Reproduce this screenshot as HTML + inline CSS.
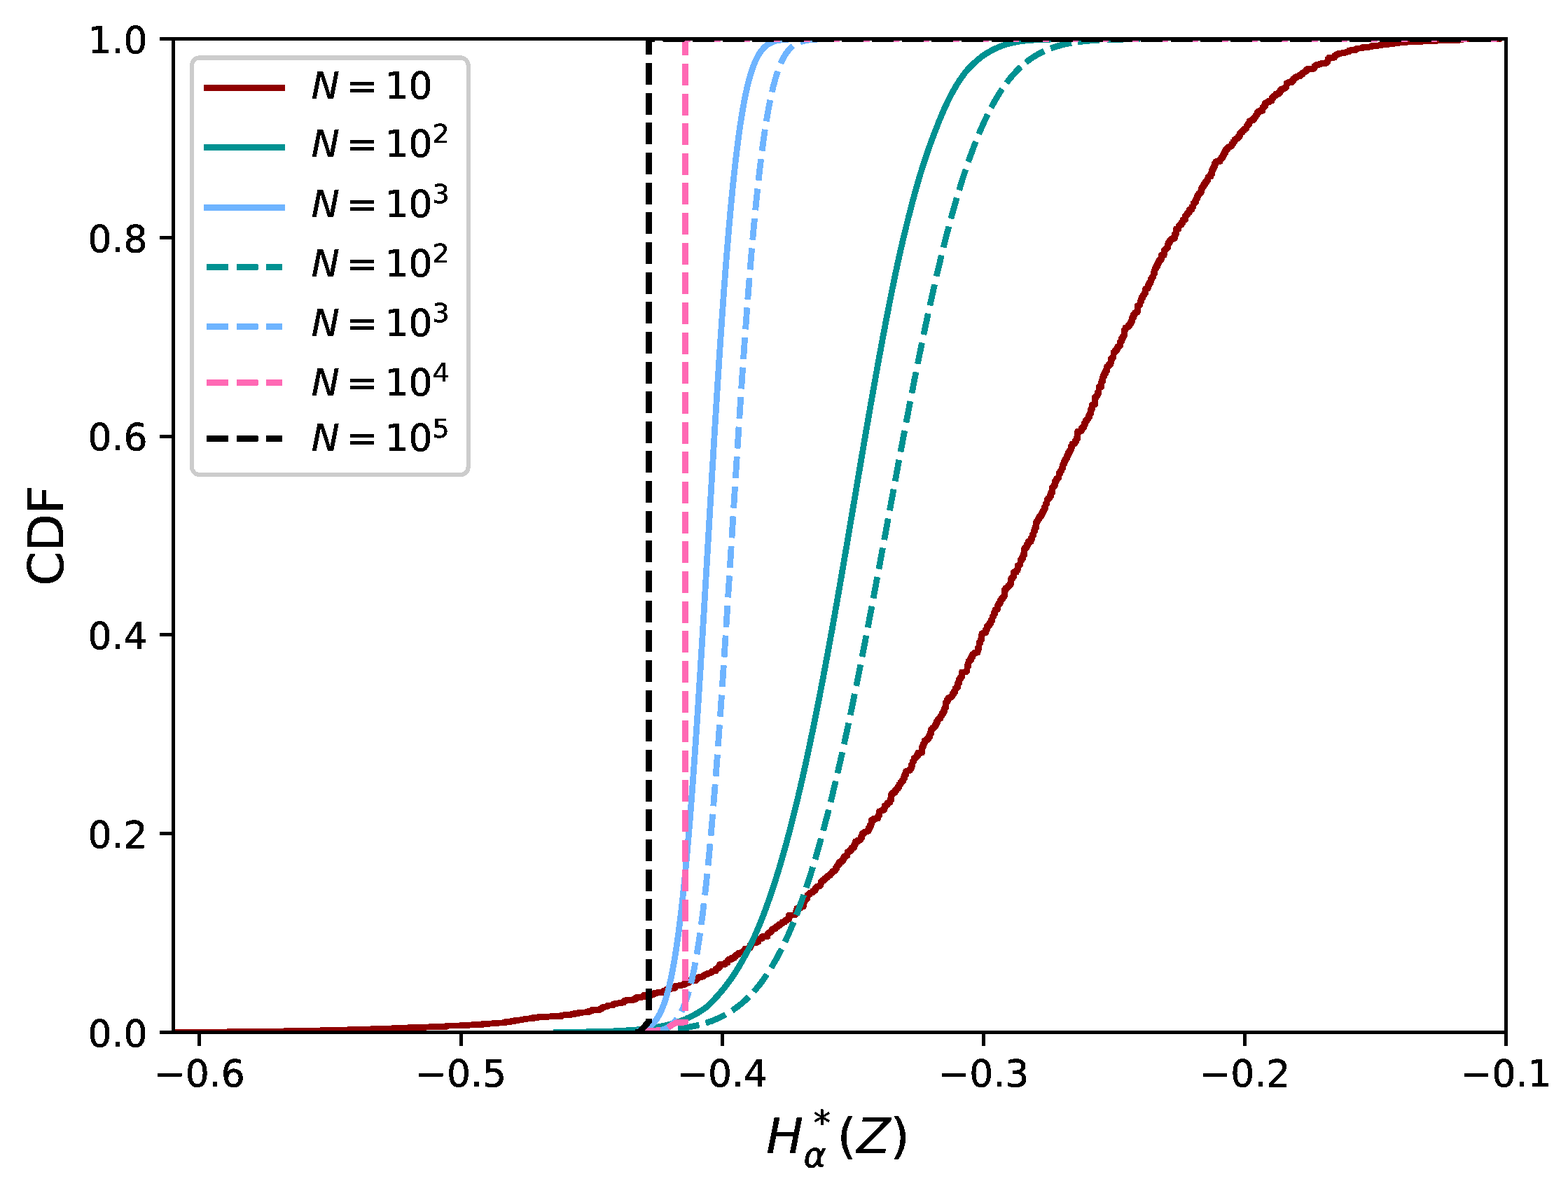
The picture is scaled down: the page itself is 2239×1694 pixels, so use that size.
<!DOCTYPE html>
<html lang="en"><head><meta charset="utf-8"><title>CDF plot</title>
<style>html,body{margin:0;padding:0;background:#fff}svg{display:block}text{font-family:"DejaVu Sans","Liberation Sans",sans-serif;fill:#000;stroke:none}.t{font-size:53.5px}.l{font-size:70px}.s{font-size:37.45px}.i{font-style:oblique}</style></head><body>
<svg xmlns="http://www.w3.org/2000/svg" width="2239" height="1694" viewBox="0 0 2239 1694">
<rect width="2239" height="1694" fill="#fff"/>
<defs><filter id="hard" x="0" y="0" width="2239" height="1694" filterUnits="userSpaceOnUse" color-interpolation-filters="sRGB"><feComponentTransfer><feFuncA type="discrete" tableValues="0 1 1 1 1 1 1 1 1 1"/></feComponentTransfer></filter></defs>
<defs><clipPath id="ax"><rect x="247.6" y="55.7" width="1903" height="1418.7"/></clipPath></defs>
<g filter="url(#hard)"><g clip-path="url(#ax)" fill="none" stroke-width="8" stroke-linejoin="round"><path d="M239.09,1474.04 L240.99,1474.04 L240.99,1474.04 L242.89,1474.04 L242.89,1474.04 L244.79,1474.04 L244.79,1474.04 L246.69,1474.04 L246.69,1474.04 L248.59,1474.04 L248.59,1474.04 L250.49,1474.04 L250.49,1474.04 L252.39,1474.04 L252.39,1474.04 L254.29,1474.04 L254.29,1474.04 L256.19,1474.04 L256.19,1474.04 L258.09,1474.04 L258.09,1474.04 L259.99,1474.04 L259.99,1474.04 L261.89,1474.04 L261.89,1474.04 L263.79,1474.04 L263.79,1474.04 L265.69,1474.04 L265.69,1474.04 L267.59,1474.04 L267.59,1474.04 L269.49,1474.04 L269.49,1474.04 L271.39,1474.04 L271.39,1474.04 L273.29,1474.04 L273.29,1474.04 L275.19,1474.04 L275.19,1474.04 L277.09,1474.04 L277.09,1474.04 L278.99,1474.04 L278.99,1474.04 L280.89,1474.04 L280.89,1474.04 L282.79,1474.04 L282.79,1474.04 L284.69,1474.04 L284.69,1474.04 L286.59,1474.04 L286.59,1474.04 L288.49,1474.04 L288.49,1474.04 L290.39,1474.04 L290.39,1474.03 L292.29,1474.03 L292.29,1474.03 L294.19,1474.03 L294.19,1474.03 L296.09,1474.03 L296.09,1474.02 L297.99,1474.02 L297.99,1474.01 L299.89,1474.01 L299.89,1474.01 L301.79,1474.01 L301.79,1474 L303.69,1474 L303.69,1473.99 L305.59,1473.99 L305.59,1473.98 L307.49,1473.98 L307.49,1473.97 L309.39,1473.97 L309.39,1473.96 L311.29,1473.96 L311.29,1473.95 L313.19,1473.95 L313.19,1473.94 L315.09,1473.94 L315.09,1473.93 L316.99,1473.93 L316.99,1473.92 L318.89,1473.92 L318.89,1473.9 L320.79,1473.9 L320.79,1473.89 L322.69,1473.89 L322.69,1473.88 L324.59,1473.88 L324.59,1473.86 L326.49,1473.86 L326.49,1473.85 L328.39,1473.85 L328.39,1473.84 L330.29,1473.84 L330.29,1473.82 L332.19,1473.82 L332.19,1473.81 L334.09,1473.81 L334.09,1473.79 L335.99,1473.79 L335.99,1473.77 L337.89,1473.77 L337.89,1473.76 L339.79,1473.76 L339.79,1473.74 L341.69,1473.74 L341.69,1473.72 L343.59,1473.72 L343.59,1473.71 L345.49,1473.71 L345.49,1473.69 L347.39,1473.69 L347.39,1473.67 L349.29,1473.67 L349.29,1473.65 L351.19,1473.65 L351.19,1473.63 L353.09,1473.63 L353.09,1473.61 L354.99,1473.61 L354.99,1473.59 L356.89,1473.59 L356.89,1473.57 L358.79,1473.57 L358.79,1473.55 L360.69,1473.55 L360.69,1473.52 L362.59,1473.52 L362.59,1473.5 L364.49,1473.5 L364.49,1473.48 L366.39,1473.48 L366.39,1473.46 L368.29,1473.46 L368.29,1473.43 L370.19,1473.43 L370.19,1473.41 L372.09,1473.41 L372.09,1473.38 L373.99,1473.38 L373.99,1473.36 L375.89,1473.36 L375.89,1473.33 L377.79,1473.33 L377.79,1473.31 L379.69,1473.31 L379.69,1473.28 L381.59,1473.28 L381.59,1473.26 L383.49,1473.26 L383.49,1473.23 L385.39,1473.23 L385.39,1473.2 L387.29,1473.2 L387.29,1473.17 L389.19,1473.17 L389.19,1473.15 L391.09,1473.15 L391.09,1473.12 L392.99,1473.12 L392.99,1473.09 L394.89,1473.09 L394.89,1473.06 L396.79,1473.06 L396.79,1473.03 L398.69,1473.03 L398.69,1473 L400.59,1473 L400.59,1472.97 L402.49,1472.97 L402.49,1472.94 L404.39,1472.94 L404.39,1472.9 L406.29,1472.9 L406.29,1472.87 L408.19,1472.87 L408.19,1472.84 L410.09,1472.84 L410.09,1472.81 L411.99,1472.81 L411.99,1472.77 L413.89,1472.77 L413.89,1472.74 L415.79,1472.74 L415.79,1472.71 L417.69,1472.71 L417.69,1472.67 L419.59,1472.67 L419.59,1472.64 L421.49,1472.64 L421.49,1472.6 L423.39,1472.6 L423.39,1472.56 L425.29,1472.56 L425.29,1472.53 L427.19,1472.53 L427.19,1472.49 L429.09,1472.49 L429.09,1472.45 L430.99,1472.45 L430.99,1472.42 L432.89,1472.42 L432.89,1472.38 L434.79,1472.38 L434.79,1472.34 L436.69,1472.34 L436.69,1472.3 L438.59,1472.3 L438.59,1472.26 L440.49,1472.26 L440.49,1472.22 L442.39,1472.22 L442.39,1472.18 L444.29,1472.18 L444.29,1472.14 L446.19,1472.14 L446.19,1472.1 L448.09,1472.1 L448.09,1472.06 L449.99,1472.06 L449.99,1472.02 L451.89,1472.02 L451.89,1471.97 L453.79,1471.97 L453.79,1471.93 L455.69,1471.93 L455.69,1471.89 L457.59,1471.89 L457.59,1471.84 L459.49,1471.84 L459.49,1471.8 L461.39,1471.8 L461.39,1471.76 L463.29,1471.76 L463.29,1471.71 L465.19,1471.71 L465.19,1471.67 L467.09,1471.67 L467.09,1471.62 L468.99,1471.62 L468.99,1471.57 L470.89,1471.57 L470.89,1471.53 L472.79,1471.53 L472.79,1471.48 L474.69,1471.48 L474.69,1471.43 L476.59,1471.43 L476.59,1471.38 L478.49,1471.38 L478.49,1471.34 L480.39,1471.34 L480.39,1471.29 L482.29,1471.29 L482.29,1471.24 L484.19,1471.24 L484.19,1471.19 L486.09,1471.19 L486.09,1471.14 L487.99,1471.14 L487.99,1471.09 L489.89,1471.09 L489.89,1471.04 L491.79,1471.04 L491.79,1470.99 L493.69,1470.99 L493.69,1470.94 L495.59,1470.94 L495.59,1470.88 L497.49,1470.88 L497.49,1470.83 L499.39,1470.83 L499.39,1470.78 L501.29,1470.78 L501.29,1470.72 L503.19,1470.72 L503.19,1470.67 L505.09,1470.67 L505.09,1470.62 L506.99,1470.62 L506.99,1470.56 L508.89,1470.56 L508.89,1470.51 L510.79,1470.51 L510.79,1470.45 L512.69,1470.45 L512.69,1470.4 L514.59,1470.4 L514.59,1470.34 L516.49,1470.34 L516.49,1470.28 L518.39,1470.28 L518.39,1470.23 L520.29,1470.23 L520.29,1470.17 L522.19,1470.17 L522.19,1470.11 L524.09,1470.11 L524.09,1470.05 L525.99,1470.05 L525.99,1469.99 L527.89,1469.99 L527.89,1469.93 L529.79,1469.93 L529.79,1469.87 L531.69,1469.87 L531.69,1469.81 L533.59,1469.81 L533.59,1469.75 L535.49,1469.75 L535.49,1469.69 L537.39,1469.69 L537.39,1469.63 L539.29,1469.63 L539.29,1469.57 L541.19,1469.57 L541.19,1469.51 L543.09,1469.51 L543.09,1469.45 L544.99,1469.45 L544.99,1469.38 L546.89,1469.38 L546.89,1469.32 L548.79,1469.32 L548.79,1469.26 L550.69,1469.26 L550.69,1469.19 L552.59,1469.19 L552.59,1469.13 L554.49,1469.13 L554.49,1469.06 L556.39,1469.06 L556.39,1469 L558.29,1469 L558.29,1468.93 L560.19,1468.93 L560.19,1468.86 L562.09,1468.86 L562.09,1468.8 L563.99,1468.8 L563.99,1468.73 L565.89,1468.73 L565.89,1468.66 L567.79,1468.66 L567.79,1468.59 L569.69,1468.59 L569.69,1468.53 L571.59,1468.53 L571.59,1468.46 L573.49,1468.46 L573.49,1468.39 L575.39,1468.39 L575.39,1468.32 L577.29,1468.32 L577.29,1468.32 L579.19,1468.32 L579.19,1468.32 L581.09,1468.32 L581.09,1468.32 L582.99,1468.32 L582.99,1468.32 L584.89,1468.32 L584.89,1467.33 L586.79,1467.33 L586.79,1467.33 L588.69,1467.33 L588.69,1467.33 L590.59,1467.33 L590.59,1467.33 L592.49,1467.33 L592.49,1467.33 L594.39,1467.33 L594.39,1467.33 L596.29,1467.33 L596.29,1467.33 L598.19,1467.33 L598.19,1467.33 L600.09,1467.33 L600.09,1467.33 L601.99,1467.33 L601.99,1467.3 L603.89,1467.3 L603.89,1467.22 L605.79,1467.22 L605.79,1467.15 L607.69,1467.15 L607.69,1467.07 L609.59,1467.07 L609.59,1466.99 L611.49,1466.99 L611.49,1466.92 L613.39,1466.92 L613.39,1466.84 L615.29,1466.84 L615.29,1466.76 L617.19,1466.76 L617.19,1466.68 L619.09,1466.68 L619.09,1466.6 L620.99,1466.6 L620.99,1466.52 L622.89,1466.52 L622.89,1466.44 L624.79,1466.44 L624.79,1466.35 L626.69,1466.35 L626.69,1466.27 L628.59,1466.27 L628.59,1466.19 L630.49,1466.19 L630.49,1466.19 L632.39,1466.19 L632.39,1466.19 L634.29,1466.19 L634.29,1466.19 L636.19,1466.19 L636.19,1466.19 L638.09,1466.19 L638.09,1465.12 L639.99,1465.12 L639.99,1465.12 L641.89,1465.12 L641.89,1465.12 L643.79,1465.12 L643.79,1465.12 L645.69,1465.12 L645.69,1465.12 L647.59,1465.12 L647.59,1465.12 L649.49,1465.12 L649.49,1465.12 L651.39,1465.12 L651.39,1465.1 L653.29,1465.1 L653.29,1465 L655.19,1465 L655.19,1464.9 L657.09,1464.9 L657.09,1464.8 L658.99,1464.8 L658.99,1464.7 L660.89,1464.7 L660.89,1464.59 L662.79,1464.59 L662.79,1464.49 L664.69,1464.49 L664.69,1464.38 L666.59,1464.38 L666.59,1464.27 L668.49,1464.27 L668.49,1464.16 L670.39,1464.16 L670.39,1464.04 L672.29,1464.04 L672.29,1463.93 L674.19,1463.93 L674.19,1463.81 L676.09,1463.81 L676.09,1463.7 L677.99,1463.7 L677.99,1463.58 L679.89,1463.58 L679.89,1463.45 L681.79,1463.45 L681.79,1463.45 L683.69,1463.45 L683.69,1463.45 L685.59,1463.45 L685.59,1463.45 L687.49,1463.45 L687.49,1463.45 L689.39,1463.45 L689.39,1462.18 L691.29,1462.18 L691.29,1462.18 L693.19,1462.18 L693.19,1462.18 L695.09,1462.18 L695.09,1462.18 L696.99,1462.18 L696.99,1462.18 L698.89,1462.18 L698.89,1462.12 L700.79,1462.12 L700.79,1461.97 L702.69,1461.97 L702.69,1461.81 L704.59,1461.81 L704.59,1461.66 L706.49,1461.66 L706.49,1461.49 L708.39,1461.49 L708.39,1461.32 L710.29,1461.32 L710.29,1461.15 L712.19,1461.15 L712.19,1460.97 L714.09,1460.97 L714.09,1460.94 L715.99,1460.94 L715.99,1460.9 L717.89,1460.9 L717.89,1460.85 L719.79,1460.85 L719.79,1460.8 L721.69,1460.8 L721.69,1459.47 L723.59,1459.47 L723.59,1459.47 L725.49,1459.47 L725.49,1459.47 L727.39,1459.47 L727.39,1459.47 L729.29,1459.47 L729.29,1458.63 L731.19,1458.63 L731.19,1458.63 L733.09,1458.63 L733.09,1458.63 L734.99,1458.63 L734.99,1457.29 L736.89,1457.29 L736.89,1457.29 L738.79,1457.29 L738.79,1457.13 L740.69,1457.13 L740.69,1456.95 L742.59,1456.95 L742.59,1456.77 L744.49,1456.77 L744.49,1456.43 L746.39,1456.43 L746.39,1456.08 L748.29,1456.08 L748.29,1455.73 L750.19,1455.73 L750.19,1455.4 L752.09,1455.4 L752.09,1455.07 L753.99,1455.07 L753.99,1454.91 L755.89,1454.91 L755.89,1454.76 L757.79,1454.76 L757.79,1454.64 L759.69,1454.64 L759.69,1454.54 L761.59,1454.54 L761.59,1453.19 L763.49,1453.19 L763.49,1453.19 L765.39,1453.19 L765.39,1453.19 L767.29,1453.19 L767.29,1453.19 L769.19,1453.19 L769.19,1452.27 L771.09,1452.27 L771.09,1452.27 L772.99,1452.27 L772.99,1452.27 L774.89,1452.27 L774.89,1452.27 L776.79,1452.27 L776.79,1452.27 L778.69,1452.27 L778.69,1452.27 L780.59,1452.27 L780.59,1452.16 L782.49,1452.16 L782.49,1452.05 L784.39,1452.05 L784.39,1451.94 L786.29,1451.94 L786.29,1451.82 L788.19,1451.82 L788.19,1451.7 L790.09,1451.7 L790.09,1451.57 L791.99,1451.57 L791.99,1451.43 L793.89,1451.43 L793.89,1451.43 L795.79,1451.43 L795.79,1451.43 L797.69,1451.43 L797.69,1451.42 L799.59,1451.42 L799.59,1451.4 L801.49,1451.4 L801.49,1449.94 L803.39,1449.94 L803.39,1449.9 L805.29,1449.9 L805.29,1449.84 L807.19,1449.84 L807.19,1449.84 L809.09,1449.84 L809.09,1449.84 L810.99,1449.84 L810.99,1449.84 L812.89,1449.84 L812.89,1449.84 L814.79,1449.84 L814.79,1448.63 L816.69,1448.63 L816.69,1448.63 L818.59,1448.63 L818.59,1448.63 L820.49,1448.63 L820.49,1447.62 L822.39,1447.62 L822.39,1447.62 L824.29,1447.62 L824.29,1447.62 L826.19,1447.62 L826.19,1446.37 L828.09,1446.37 L828.09,1446.35 L829.99,1446.35 L829.99,1446.16 L831.89,1446.16 L831.89,1445.96 L833.79,1445.96 L833.79,1445.91 L835.69,1445.91 L835.69,1445.69 L837.59,1445.69 L837.59,1445.62 L839.49,1445.62 L839.49,1445.53 L841.39,1445.53 L841.39,1444.01 L843.29,1444.01 L843.29,1443.9 L845.19,1443.9 L845.19,1442.36 L847.09,1442.36 L847.09,1442.22 L848.99,1442.22 L848.99,1442.22 L850.89,1442.22 L850.89,1442.22 L852.79,1442.22 L852.79,1442.22 L854.69,1442.22 L854.69,1442.22 L856.59,1442.22 L856.59,1441.18 L858.49,1441.18 L858.49,1440.02 L860.39,1440.02 L860.39,1439.02 L862.29,1439.02 L862.29,1438 L864.19,1438 L864.19,1438 L866.09,1438 L866.09,1437.21 L867.99,1437.21 L867.99,1436.01 L869.89,1436.01 L869.89,1436.01 L871.79,1436.01 L871.79,1435.98 L873.69,1435.98 L873.69,1435.89 L875.59,1435.89 L875.59,1434.21 L877.49,1434.21 L877.49,1433.8 L879.39,1433.8 L879.39,1433.39 L881.29,1433.39 L881.29,1432.98 L883.19,1432.98 L883.19,1432.73 L885.09,1432.73 L885.09,1432.49 L886.99,1432.49 L886.99,1432.25 L888.89,1432.25 L888.89,1432.02 L890.79,1432.02 L890.79,1430.37 L892.69,1430.37 L892.69,1428.73 L894.59,1428.73 L894.59,1428.52 L896.49,1428.52 L896.49,1428.47 L898.39,1428.47 L898.39,1428.43 L900.29,1428.43 L900.29,1428.43 L902.19,1428.43 L902.19,1428.43 L904.09,1428.43 L904.09,1427.24 L905.99,1427.24 L905.99,1427.24 L907.89,1427.24 L907.89,1424.69 L909.79,1424.69 L909.79,1424.69 L911.69,1424.69 L911.69,1424.22 L913.59,1424.22 L913.59,1424.22 L915.49,1424.22 L915.49,1424.22 L917.39,1424.22 L917.39,1423.96 L919.29,1423.96 L919.29,1421.31 L921.19,1421.31 L921.19,1421.31 L923.09,1421.31 L923.09,1421.31 L924.99,1421.31 L924.99,1421.31 L926.89,1421.31 L926.89,1421.31 L928.79,1421.31 L928.79,1421.31 L930.69,1421.31 L930.69,1421.08 L932.59,1421.08 L932.59,1419.85 L934.49,1419.85 L934.49,1418.61 L936.39,1418.61 L936.39,1418.61 L938.29,1418.61 L938.29,1417.82 L940.19,1417.82 L940.19,1417.82 L942.09,1417.82 L942.09,1417.82 L943.99,1417.82 L943.99,1417.53 L945.89,1417.53 L945.89,1417.53 L947.79,1417.53 L947.79,1415.26 L949.69,1415.26 L949.69,1415.26 L951.59,1415.26 L951.59,1413.03 L953.49,1413.03 L953.49,1413.03 L955.39,1413.03 L955.39,1413.03 L957.29,1413.03 L957.29,1412 L959.19,1412 L959.19,1412 L961.09,1412 L961.09,1411.76 L962.99,1411.76 L962.99,1410.06 L964.89,1410.06 L964.89,1408.36 L966.79,1408.36 L966.79,1407.92 L968.69,1407.92 L968.69,1407.66 L970.59,1407.66 L970.59,1407.41 L972.49,1407.41 L972.49,1407.17 L974.39,1407.17 L974.39,1406.78 L976.29,1406.78 L976.29,1405.3 L978.19,1405.3 L978.19,1405.25 L980.09,1405.25 L980.09,1403.77 L981.99,1403.77 L981.99,1403.71 L983.89,1403.71 L983.89,1400.81 L985.79,1400.81 L985.79,1400.73 L987.69,1400.73 L987.69,1400.73 L989.59,1400.73 L989.59,1400.73 L991.49,1400.73 L991.49,1400.73 L993.39,1400.73 L993.39,1399.12 L995.29,1399.12 L995.29,1397.36 L997.19,1397.36 L997.19,1395.73 L999.09,1395.73 L999.09,1395.49 L1000.99,1395.49 L1000.99,1395.23 L1002.89,1395.23 L1002.89,1394.78 L1004.79,1394.78 L1004.79,1392.72 L1006.69,1392.72 L1006.69,1391.9 L1008.59,1391.9 L1008.59,1391.22 L1010.49,1391.22 L1010.49,1390.51 L1012.39,1390.51 L1012.39,1389.77 L1014.29,1389.77 L1014.29,1389.17 L1016.19,1389.17 L1016.19,1387.3 L1018.09,1387.3 L1018.09,1386.97 L1019.99,1386.97 L1019.99,1386.97 L1021.89,1386.97 L1021.89,1384.37 L1023.79,1384.37 L1023.79,1383.05 L1025.69,1383.05 L1025.69,1381.55 L1027.59,1381.55 L1027.59,1377.51 L1029.49,1377.51 L1029.49,1377.51 L1031.39,1377.51 L1031.39,1377.51 L1033.29,1377.51 L1033.29,1377.51 L1035.19,1377.51 L1035.19,1375.25 L1037.09,1375.25 L1037.09,1374.93 L1038.99,1374.93 L1038.99,1371.76 L1040.89,1371.76 L1040.89,1370.17 L1042.79,1370.17 L1042.79,1370.14 L1044.69,1370.14 L1044.69,1368.37 L1046.59,1368.37 L1046.59,1368.17 L1048.49,1368.17 L1048.49,1366.23 L1050.39,1366.23 L1050.39,1364.14 L1052.29,1364.14 L1052.29,1363.46 L1054.19,1363.46 L1054.19,1361.36 L1056.09,1361.36 L1056.09,1361 L1057.99,1361 L1057.99,1360.48 L1059.89,1360.48 L1059.89,1359.96 L1061.79,1359.96 L1061.79,1358.19 L1063.69,1358.19 L1063.69,1355.31 L1065.59,1355.31 L1065.59,1355.31 L1067.49,1355.31 L1067.49,1354.63 L1069.39,1354.63 L1069.39,1353.66 L1071.29,1353.66 L1071.29,1349.86 L1073.19,1349.86 L1073.19,1347.33 L1075.09,1347.33 L1075.09,1346.69 L1076.99,1346.69 L1076.99,1346.69 L1078.89,1346.69 L1078.89,1346.35 L1080.79,1346.35 L1080.79,1345.23 L1082.69,1345.23 L1082.69,1340.95 L1084.59,1340.95 L1084.59,1340.76 L1086.49,1340.76 L1086.49,1340.56 L1088.39,1340.56 L1088.39,1337.83 L1090.29,1337.83 L1090.29,1337.83 L1092.19,1337.83 L1092.19,1337.67 L1094.09,1337.67 L1094.09,1337.67 L1095.99,1337.67 L1095.99,1333.66 L1097.89,1333.66 L1097.89,1332.09 L1099.79,1332.09 L1099.79,1330.66 L1101.69,1330.66 L1101.69,1327.94 L1103.59,1327.94 L1103.59,1326.62 L1105.49,1326.62 L1105.49,1326.39 L1107.39,1326.39 L1107.39,1324.57 L1109.29,1324.57 L1109.29,1322.73 L1111.19,1322.73 L1111.19,1321.99 L1113.09,1321.99 L1113.09,1319.84 L1114.99,1319.84 L1114.99,1319.26 L1116.89,1319.26 L1116.89,1317.12 L1118.79,1317.12 L1118.79,1316.88 L1120.69,1316.88 L1120.69,1315.24 L1122.59,1315.24 L1122.59,1313.6 L1124.49,1313.6 L1124.49,1313.37 L1126.39,1313.37 L1126.39,1307.47 L1128.29,1307.47 L1128.29,1307.47 L1130.19,1307.47 L1130.19,1306.91 L1132.09,1306.91 L1132.09,1306.91 L1133.99,1306.91 L1133.99,1306.75 L1135.89,1306.75 L1135.89,1302.75 L1137.79,1302.75 L1137.79,1297.4 L1139.69,1297.4 L1139.69,1296.82 L1141.59,1296.82 L1141.59,1296.6 L1143.49,1296.6 L1143.49,1294.88 L1145.39,1294.88 L1145.39,1294.64 L1147.29,1294.64 L1147.29,1288.19 L1149.19,1288.19 L1149.19,1284.54 L1151.09,1284.54 L1151.09,1283.55 L1152.99,1283.55 L1152.99,1278.17 L1154.89,1278.17 L1154.89,1276.92 L1156.79,1276.92 L1156.79,1275.25 L1158.69,1275.25 L1158.69,1274.75 L1160.59,1274.75 L1160.59,1272.74 L1162.49,1272.74 L1162.49,1271.76 L1164.39,1271.76 L1164.39,1268.32 L1166.29,1268.32 L1166.29,1266.37 L1168.19,1266.37 L1168.19,1266.04 L1170.09,1266.04 L1170.09,1264.34 L1171.99,1264.34 L1171.99,1259.99 L1173.89,1259.99 L1173.89,1258.33 L1175.79,1258.33 L1175.79,1256.53 L1177.69,1256.53 L1177.69,1254.87 L1179.59,1254.87 L1179.59,1253.21 L1181.49,1253.21 L1181.49,1251.2 L1183.39,1251.2 L1183.39,1250.42 L1185.29,1250.42 L1185.29,1248.33 L1187.19,1248.33 L1187.19,1246.35 L1189.09,1246.35 L1189.09,1244.3 L1190.99,1244.3 L1190.99,1243.76 L1192.89,1243.76 L1192.89,1240.32 L1194.79,1240.32 L1194.79,1236.81 L1196.69,1236.81 L1196.69,1234.82 L1198.59,1234.82 L1198.59,1231.37 L1200.49,1231.37 L1200.49,1230.71 L1202.39,1230.71 L1202.39,1228.78 L1204.29,1228.78 L1204.29,1225.09 L1206.19,1225.09 L1206.19,1222.83 L1208.09,1222.83 L1208.09,1221.99 L1209.99,1221.99 L1209.99,1216.91 L1211.89,1216.91 L1211.89,1216.26 L1213.79,1216.26 L1213.79,1214.37 L1215.69,1214.37 L1215.69,1210.92 L1217.59,1210.92 L1217.59,1210.48 L1219.49,1210.48 L1219.49,1206.73 L1221.39,1206.73 L1221.39,1201.89 L1223.29,1201.89 L1223.29,1201.63 L1225.19,1201.63 L1225.19,1199.79 L1227.09,1199.79 L1227.09,1199.53 L1228.99,1199.53 L1228.99,1196.27 L1230.89,1196.27 L1230.89,1191.28 L1232.79,1191.28 L1232.79,1189.59 L1234.69,1189.59 L1234.69,1188.21 L1236.59,1188.21 L1236.59,1187.6 L1238.49,1187.6 L1238.49,1186.68 L1240.39,1186.68 L1240.39,1182.74 L1242.29,1182.74 L1242.29,1178.64 L1244.19,1178.64 L1244.19,1171.52 L1246.09,1171.52 L1246.09,1171.52 L1247.99,1171.52 L1247.99,1169.37 L1249.89,1169.37 L1249.89,1169.37 L1251.79,1169.37 L1251.79,1169.03 L1253.69,1169.03 L1253.69,1165.12 L1255.59,1165.12 L1255.59,1158.81 L1257.49,1158.81 L1257.49,1157.99 L1259.39,1157.99 L1259.39,1157.46 L1261.29,1157.46 L1261.29,1155.63 L1263.19,1155.63 L1263.19,1151.09 L1265.09,1151.09 L1265.09,1149.67 L1266.99,1149.67 L1266.99,1147.11 L1268.89,1147.11 L1268.89,1146.1 L1270.79,1146.1 L1270.79,1142.52 L1272.69,1142.52 L1272.69,1134.51 L1274.59,1134.51 L1274.59,1132.3 L1276.49,1132.3 L1276.49,1131.63 L1278.39,1131.63 L1278.39,1128.42 L1280.29,1128.42 L1280.29,1126.44 L1282.19,1126.44 L1282.19,1123.96 L1284.09,1123.96 L1284.09,1120.36 L1285.99,1120.36 L1285.99,1117.2 L1287.89,1117.2 L1287.89,1115.14 L1289.79,1115.14 L1289.79,1111.48 L1291.69,1111.48 L1291.69,1106.38 L1293.59,1106.38 L1293.59,1101.43 L1295.49,1101.43 L1295.49,1100.88 L1297.39,1100.88 L1297.39,1100.47 L1299.29,1100.47 L1299.29,1098.32 L1301.19,1098.32 L1301.19,1093 L1303.09,1093 L1303.09,1087.51 L1304.99,1087.51 L1304.99,1083.26 L1306.89,1083.26 L1306.89,1081.69 L1308.79,1081.69 L1308.79,1079.31 L1310.69,1079.31 L1310.69,1075.35 L1312.59,1075.35 L1312.59,1075.35 L1314.49,1075.35 L1314.49,1075.26 L1316.39,1075.26 L1316.39,1066.69 L1318.29,1066.69 L1318.29,1062.35 L1320.19,1062.35 L1320.19,1058.01 L1322.09,1058.01 L1322.09,1057.11 L1323.99,1057.11 L1323.99,1054.95 L1325.89,1054.95 L1325.89,1051.98 L1327.79,1051.98 L1327.79,1047.42 L1329.69,1047.42 L1329.69,1041.43 L1331.59,1041.43 L1331.59,1039.85 L1333.49,1039.85 L1333.49,1038.09 L1335.39,1038.09 L1335.39,1035.05 L1337.29,1035.05 L1337.29,1030.59 L1339.19,1030.59 L1339.19,1027.37 L1341.09,1027.37 L1341.09,1026.04 L1342.99,1026.04 L1342.99,1022.64 L1344.89,1022.64 L1344.89,1019.39 L1346.79,1019.39 L1346.79,1015.97 L1348.69,1015.97 L1348.69,1010.96 L1350.59,1010.96 L1350.59,1003.11 L1352.49,1003.11 L1352.49,999.34 L1354.39,999.34 L1354.39,996.82 L1356.29,996.82 L1356.29,995.71 L1358.19,995.71 L1358.19,994.28 L1360.09,994.28 L1360.09,991.1 L1361.99,991.1 L1361.99,988.07 L1363.89,988.07 L1363.89,983.61 L1365.79,983.61 L1365.79,981.2 L1367.69,981.2 L1367.69,975.78 L1369.59,975.78 L1369.59,970.03 L1371.49,970.03 L1371.49,966.96 L1373.39,966.96 L1373.39,959.94 L1375.29,959.94 L1375.29,959.94 L1377.19,959.94 L1377.19,959.94 L1379.09,959.94 L1379.09,958.38 L1380.99,958.38 L1380.99,951.01 L1382.89,951.01 L1382.89,944.42 L1384.79,944.42 L1384.79,942.24 L1386.69,942.24 L1386.69,938.79 L1388.59,938.79 L1388.59,934.54 L1390.49,934.54 L1390.49,933.28 L1392.39,933.28 L1392.39,932.01 L1394.29,932.01 L1394.29,931.68 L1396.19,931.68 L1396.19,925.66 L1398.09,925.66 L1398.09,917.91 L1399.99,917.91 L1399.99,913.45 L1401.89,913.45 L1401.89,905.2 L1403.79,905.2 L1403.79,904.03 L1405.69,904.03 L1405.69,903.96 L1407.59,903.96 L1407.59,899.15 L1409.49,899.15 L1409.49,894.33 L1411.39,894.33 L1411.39,893.12 L1413.29,893.12 L1413.29,889.38 L1415.19,889.38 L1415.19,885.63 L1417.09,885.63 L1417.09,880.46 L1418.99,880.46 L1418.99,876.37 L1420.89,876.37 L1420.89,871.17 L1422.79,871.17 L1422.79,869.91 L1424.69,869.91 L1424.69,864.05 L1426.59,864.05 L1426.59,861.35 L1428.49,861.35 L1428.49,856.89 L1430.39,856.89 L1430.39,854.63 L1432.29,854.63 L1432.29,852.36 L1434.19,852.36 L1434.19,842.51 L1436.09,842.51 L1436.09,840.06 L1437.99,840.06 L1437.99,838.69 L1439.89,838.69 L1439.89,836.37 L1441.79,836.37 L1441.79,833.88 L1443.69,833.88 L1443.69,826.49 L1445.59,826.49 L1445.59,823.98 L1447.49,823.98 L1447.49,817.5 L1449.39,817.5 L1449.39,817.33 L1451.29,817.33 L1451.29,814.61 L1453.19,814.61 L1453.19,807.78 L1455.09,807.78 L1455.09,806.14 L1456.99,806.14 L1456.99,800.08 L1458.89,800.08 L1458.89,797.46 L1460.79,797.46 L1460.79,792.31 L1462.69,792.31 L1462.69,783.68 L1464.59,783.68 L1464.59,781.18 L1466.49,781.18 L1466.49,777.24 L1468.39,777.24 L1468.39,773.61 L1470.29,773.61 L1470.29,773.61 L1472.19,773.61 L1472.19,769.12 L1474.09,769.12 L1474.09,764.02 L1475.99,764.02 L1475.99,758.74 L1477.89,758.74 L1477.89,753.13 L1479.79,753.13 L1479.79,744.99 L1481.69,744.99 L1481.69,742.02 L1483.59,742.02 L1483.59,738.72 L1485.49,738.72 L1485.49,736.51 L1487.39,736.51 L1487.39,732.71 L1489.29,732.71 L1489.29,729.36 L1491.19,729.36 L1491.19,724.42 L1493.09,724.42 L1493.09,719.47 L1494.99,719.47 L1494.99,713.55 L1496.89,713.55 L1496.89,711.57 L1498.79,711.57 L1498.79,708.47 L1500.69,708.47 L1500.69,703.79 L1502.59,703.79 L1502.59,695.95 L1504.49,695.95 L1504.49,693.78 L1506.39,693.78 L1506.39,687.51 L1508.29,687.51 L1508.29,684.08 L1510.19,684.08 L1510.19,682.22 L1512.09,682.22 L1512.09,675.8 L1513.99,675.8 L1513.99,672.4 L1515.89,672.4 L1515.89,668.86 L1517.79,668.86 L1517.79,662.69 L1519.69,662.69 L1519.69,658.13 L1521.59,658.13 L1521.59,655.07 L1523.49,655.07 L1523.49,650.81 L1525.39,650.81 L1525.39,646.34 L1527.29,646.34 L1527.29,643.22 L1529.19,643.22 L1529.19,637.38 L1531.09,637.38 L1531.09,633.85 L1532.99,633.85 L1532.99,633.85 L1534.89,633.85 L1534.89,630.09 L1536.79,630.09 L1536.79,626.21 L1538.69,626.21 L1538.69,616.24 L1540.59,616.24 L1540.59,616.22 L1542.49,616.22 L1542.49,615.25 L1544.39,615.25 L1544.39,611.24 L1546.29,611.24 L1546.29,609.82 L1548.19,609.82 L1548.19,604.96 L1550.09,604.96 L1550.09,600.75 L1551.99,600.75 L1551.99,598.41 L1553.89,598.41 L1553.89,595.42 L1555.79,595.42 L1555.79,590.67 L1557.69,590.67 L1557.69,584.33 L1559.59,584.33 L1559.59,578 L1561.49,578 L1561.49,578 L1563.39,578 L1563.39,567.85 L1565.29,567.85 L1565.29,565.2 L1567.19,565.2 L1567.19,561.1 L1569.09,561.1 L1569.09,552.44 L1570.99,552.44 L1570.99,552.44 L1572.89,552.44 L1572.89,543.89 L1574.79,543.89 L1574.79,537.57 L1576.69,537.57 L1576.69,533.68 L1578.59,533.68 L1578.59,529.4 L1580.49,529.4 L1580.49,523.78 L1582.39,523.78 L1582.39,522.04 L1584.29,522.04 L1584.29,519.77 L1586.19,519.77 L1586.19,513.03 L1588.09,513.03 L1588.09,510.47 L1589.99,510.47 L1589.99,503.28 L1591.89,503.28 L1591.89,500.91 L1593.79,500.91 L1593.79,498.92 L1595.69,498.92 L1595.69,495.27 L1597.59,495.27 L1597.59,493.89 L1599.49,493.89 L1599.49,487.98 L1601.39,487.98 L1601.39,483.37 L1603.29,483.37 L1603.29,480.2 L1605.19,480.2 L1605.19,471.21 L1607.09,471.21 L1607.09,467.91 L1608.99,467.91 L1608.99,467.29 L1610.89,467.29 L1610.89,465.07 L1612.79,465.07 L1612.79,462.68 L1614.69,462.68 L1614.69,459.31 L1616.59,459.31 L1616.59,453.7 L1618.49,453.7 L1618.49,449.46 L1620.39,449.46 L1620.39,446.9 L1622.29,446.9 L1622.29,446.02 L1624.19,446.02 L1624.19,436.73 L1626.09,436.73 L1626.09,435.58 L1627.99,435.58 L1627.99,430.45 L1629.89,430.45 L1629.89,425.11 L1631.79,425.11 L1631.79,421.63 L1633.69,421.63 L1633.69,418.91 L1635.59,418.91 L1635.59,412.55 L1637.49,412.55 L1637.49,411.7 L1639.39,411.7 L1639.39,406.77 L1641.29,406.77 L1641.29,403.74 L1643.19,403.74 L1643.19,398.22 L1645.09,398.22 L1645.09,395.42 L1646.99,395.42 L1646.99,390.3 L1648.89,390.3 L1648.89,383.66 L1650.79,383.66 L1650.79,380.22 L1652.69,380.22 L1652.69,376.21 L1654.59,376.21 L1654.59,372.74 L1656.49,372.74 L1656.49,370.28 L1658.39,370.28 L1658.39,364.42 L1660.29,364.42 L1660.29,364.42 L1662.19,364.42 L1662.19,357.3 L1664.09,357.3 L1664.09,355.57 L1665.99,355.57 L1665.99,353.74 L1667.89,353.74 L1667.89,347.1 L1669.79,347.1 L1669.79,343.98 L1671.69,343.98 L1671.69,342.33 L1673.59,342.33 L1673.59,340.58 L1675.49,340.58 L1675.49,340.58 L1677.39,340.58 L1677.39,334.54 L1679.29,334.54 L1679.29,327.08 L1681.19,327.08 L1681.19,326.9 L1683.09,326.9 L1683.09,322.32 L1684.99,322.32 L1684.99,321.07 L1686.89,321.07 L1686.89,317.92 L1688.79,317.92 L1688.79,314.14 L1690.69,314.14 L1690.69,313.49 L1692.59,313.49 L1692.59,308.1 L1694.49,308.1 L1694.49,305.66 L1696.39,305.66 L1696.39,303.35 L1698.29,303.35 L1698.29,299.42 L1700.19,299.42 L1700.19,298.75 L1702.09,298.75 L1702.09,295.21 L1703.99,295.21 L1703.99,290.35 L1705.89,290.35 L1705.89,288.29 L1707.79,288.29 L1707.79,283.67 L1709.69,283.67 L1709.69,279.34 L1711.59,279.34 L1711.59,276.39 L1713.49,276.39 L1713.49,274.7 L1715.39,274.7 L1715.39,268.9 L1717.29,268.9 L1717.29,266.1 L1719.19,266.1 L1719.19,263 L1721.09,263 L1721.09,260.09 L1722.99,260.09 L1722.99,257.85 L1724.89,257.85 L1724.89,252.67 L1726.79,252.67 L1726.79,252.13 L1728.69,252.13 L1728.69,248.81 L1730.59,248.81 L1730.59,242.42 L1732.49,242.42 L1732.49,238.63 L1734.39,238.63 L1734.39,233.2 L1736.29,233.2 L1736.29,230.68 L1738.19,230.68 L1738.19,230.68 L1740.09,230.68 L1740.09,230.68 L1741.99,230.68 L1741.99,227.66 L1743.89,227.66 L1743.89,225.57 L1745.79,225.57 L1745.79,221.95 L1747.69,221.95 L1747.69,218.38 L1749.59,218.38 L1749.59,214.84 L1751.49,214.84 L1751.49,212.6 L1753.39,212.6 L1753.39,210.37 L1755.29,210.37 L1755.29,209.42 L1757.19,209.42 L1757.19,208.18 L1759.09,208.18 L1759.09,205.21 L1760.99,205.21 L1760.99,202.25 L1762.89,202.25 L1762.89,199.46 L1764.79,199.46 L1764.79,198.09 L1766.69,198.09 L1766.69,196.89 L1768.59,196.89 L1768.59,194.28 L1770.49,194.28 L1770.49,190.1 L1772.39,190.1 L1772.39,188.92 L1774.29,188.92 L1774.29,186.48 L1776.19,186.48 L1776.19,184.37 L1778.09,184.37 L1778.09,183.52 L1779.99,183.52 L1779.99,179.53 L1781.89,179.53 L1781.89,177.12 L1783.79,177.12 L1783.79,173.29 L1785.69,173.29 L1785.69,172.31 L1787.59,172.31 L1787.59,171.65 L1789.49,171.65 L1789.49,169.41 L1791.39,169.41 L1791.39,167.02 L1793.29,167.02 L1793.29,164.33 L1795.19,164.33 L1795.19,160.7 L1797.09,160.7 L1797.09,158.67 L1798.99,158.67 L1798.99,158.39 L1800.89,158.39 L1800.89,158.16 L1802.79,158.16 L1802.79,153.56 L1804.69,153.56 L1804.69,151.84 L1806.59,151.84 L1806.59,147.19 L1808.49,147.19 L1808.49,145.91 L1810.39,145.91 L1810.39,145.91 L1812.29,145.91 L1812.29,143.82 L1814.19,143.82 L1814.19,143.82 L1816.09,143.82 L1816.09,140.03 L1817.99,140.03 L1817.99,137.38 L1819.89,137.38 L1819.89,136.48 L1821.79,136.48 L1821.79,134.17 L1823.69,134.17 L1823.69,134.17 L1825.59,134.17 L1825.59,132.38 L1827.49,132.38 L1827.49,129.74 L1829.39,129.74 L1829.39,127.56 L1831.29,127.56 L1831.29,126.64 L1833.19,126.64 L1833.19,125.71 L1835.09,125.71 L1835.09,124.48 L1836.99,124.48 L1836.99,118.99 L1838.89,118.99 L1838.89,117.78 L1840.79,117.78 L1840.79,117.78 L1842.69,117.78 L1842.69,117.78 L1844.59,117.78 L1844.59,115.74 L1846.49,115.74 L1846.49,112.63 L1848.39,112.63 L1848.39,111.14 L1850.29,111.14 L1850.29,109.88 L1852.19,109.88 L1852.19,108.99 L1854.09,108.99 L1854.09,108.99 L1855.99,108.99 L1855.99,106.94 L1857.89,106.94 L1857.89,106.08 L1859.79,106.08 L1859.79,103.86 L1861.69,103.86 L1861.69,102.95 L1863.59,102.95 L1863.59,102.08 L1865.49,102.08 L1865.49,99.51 L1867.39,99.51 L1867.39,98.38 L1869.29,98.38 L1869.29,98.38 L1871.19,98.38 L1871.19,98.38 L1873.09,98.38 L1873.09,98.38 L1874.99,98.38 L1874.99,97.62 L1876.89,97.62 L1876.89,94.47 L1878.79,94.47 L1878.79,92.73 L1880.69,92.73 L1880.69,92.4 L1882.59,92.4 L1882.59,92.05 L1884.49,92.05 L1884.49,91.53 L1886.39,91.53 L1886.39,90.83 L1888.29,90.83 L1888.29,90.44 L1890.19,90.44 L1890.19,90.36 L1892.09,90.36 L1892.09,90.27 L1893.99,90.27 L1893.99,88.77 L1895.89,88.77 L1895.89,84.58 L1897.79,84.58 L1897.79,82.3 L1899.69,82.3 L1899.69,82.3 L1901.59,82.3 L1901.59,82.3 L1903.49,82.3 L1903.49,82.3 L1905.39,82.3 L1905.39,79.68 L1907.29,79.68 L1907.29,78.46 L1909.19,78.46 L1909.19,77.28 L1911.09,77.28 L1911.09,76.14 L1912.99,76.14 L1912.99,76.14 L1914.89,76.14 L1914.89,76.01 L1916.79,76.01 L1916.79,75.6 L1918.69,75.6 L1918.69,75.24 L1920.59,75.24 L1920.59,74.75 L1922.49,74.75 L1922.49,74.3 L1924.39,74.3 L1924.39,73.88 L1926.29,73.88 L1926.29,72.06 L1928.19,72.06 L1928.19,71.85 L1930.09,71.85 L1930.09,71.83 L1931.99,71.83 L1931.99,71.82 L1933.89,71.82 L1933.89,71.82 L1935.79,71.82 L1935.79,70.3 L1937.69,70.3 L1937.69,68.93 L1939.59,68.93 L1939.59,68.93 L1941.49,68.93 L1941.49,68.93 L1943.39,68.93 L1943.39,68.93 L1945.29,68.93 L1945.29,67.71 L1947.19,67.71 L1947.19,67.51 L1949.09,67.51 L1949.09,67.32 L1950.99,67.32 L1950.99,67.29 L1952.89,67.29 L1952.89,67.28 L1954.79,67.28 L1954.79,67.12 L1956.69,67.12 L1956.69,66.96 L1958.59,66.96 L1958.59,65.4 L1960.49,65.4 L1960.49,65.26 L1962.39,65.26 L1962.39,65.13 L1964.29,65.13 L1964.29,65.13 L1966.19,65.13 L1966.19,65.13 L1968.09,65.13 L1968.09,65.1 L1969.99,65.1 L1969.99,65 L1971.89,65 L1971.89,63.49 L1973.79,63.49 L1973.79,63.4 L1975.69,63.4 L1975.69,63.32 L1977.59,63.32 L1977.59,63.25 L1979.49,63.25 L1979.49,63.18 L1981.39,63.18 L1981.39,63.13 L1983.29,63.13 L1983.29,63.07 L1985.19,63.07 L1985.19,63.02 L1987.09,63.02 L1987.09,62.98 L1988.99,62.98 L1988.99,61.68 L1990.89,61.68 L1990.89,61.68 L1992.79,61.68 L1992.79,61.68 L1994.69,61.68 L1994.69,61.68 L1996.59,61.68 L1996.59,60.81 L1998.49,60.81 L1998.49,60.8 L2000.39,60.8 L2000.39,60.8 L2002.29,60.8 L2002.29,60.8 L2004.19,60.8 L2004.19,60.8 L2006.09,60.8 L2006.09,60.8 L2007.99,60.8 L2007.99,59.87 L2009.89,59.87 L2009.89,59.87 L2011.79,59.87 L2011.79,59.87 L2013.69,59.87 L2013.69,59.87 L2015.59,59.87 L2015.59,59.87 L2017.49,59.87 L2017.49,59.84 L2019.39,59.84 L2019.39,59.72 L2021.29,59.72 L2021.29,59.6 L2023.19,59.6 L2023.19,59.48 L2025.09,59.48 L2025.09,59.37 L2026.99,59.37 L2026.99,59.26 L2028.89,59.26 L2028.89,59.16 L2030.79,59.16 L2030.79,59.05 L2032.69,59.05 L2032.69,58.95 L2034.59,58.95 L2034.59,58.85 L2036.49,58.85 L2036.49,58.76 L2038.39,58.76 L2038.39,58.66 L2040.29,58.66 L2040.29,58.57 L2042.19,58.57 L2042.19,58.48 L2044.09,58.48 L2044.09,58.39 L2045.99,58.39 L2045.99,58.31 L2047.89,58.31 L2047.89,58.22 L2049.79,58.22 L2049.79,58.14 L2051.69,58.14 L2051.69,58.06 L2053.59,58.06 L2053.59,57.98 L2055.49,57.98 L2055.49,57.91 L2057.39,57.91 L2057.39,57.83 L2059.29,57.83 L2059.29,57.76 L2061.19,57.76 L2061.19,57.69 L2063.09,57.69 L2063.09,57.62 L2064.99,57.62 L2064.99,57.55 L2066.89,57.55 L2066.89,57.48 L2068.79,57.48 L2068.79,57.42 L2070.69,57.42 L2070.69,57.36 L2072.59,57.36 L2072.59,57.3 L2074.49,57.3 L2074.49,57.24 L2076.39,57.24 L2076.39,57.24 L2078.29,57.24 L2078.29,57.24 L2080.19,57.24 L2080.19,57.24 L2082.09,57.24 L2082.09,57.24 L2083.99,57.24 L2083.99,56.81 L2085.89,56.81 L2085.89,56.81 L2087.79,56.81 L2087.79,56.08 L2089.69,56.08 L2089.69,56.08 L2091.59,56.08 L2091.59,56.08 L2093.49,56.08 L2093.49,56.08 L2095.39,56.08 L2095.39,56.05 L2097.29,56.05 L2097.29,56.05 L2099.19,56.05 L2099.19,56.05 L2101.09,56.05 L2101.09,56.05 L2102.99,56.05 L2102.99,56.05 L2104.89,56.05 L2104.89,56.05 L2106.79,56.05 L2106.79,56.05 L2108.69,56.05 L2108.69,56.05 L2110.59,56.05 L2110.59,56.05 L2112.49,56.05 L2112.49,56.05 L2114.39,56.05 L2114.39,56.05 L2116.29,56.05 L2116.29,56.05 L2118.19,56.05 L2118.19,56.05 L2120.09,56.05 L2120.09,56.05 L2121.99,56.05 L2121.99,56.05 L2123.89,56.05 L2123.89,56.05 L2125.79,56.05 L2125.79,56.05 L2127.69,56.05 L2127.69,56.05 L2129.59,56.05 L2129.59,56.05 L2131.49,56.05 L2131.49,56.05 L2133.39,56.05 L2133.39,56.05 L2135.29,56.05 L2135.29,56.05 L2137.19,56.05 L2137.19,56.04 L2139.09,56.04 L2139.09,56.02 L2140.99,56.02 L2140.99,56.01" stroke="#8f0000" stroke-linecap="square"/></g></g>
<g filter="url(#hard)"><g clip-path="url(#ax)" fill="none" stroke-width="8" stroke-linejoin="round"><path d="M794.35,1474.25 L798.1,1474.23 L801.83,1474.21 L805.57,1474.19 L809.29,1474.16 L813.01,1474.13 L816.72,1474.1 L820.42,1474.07 L824.12,1474.03 L827.81,1473.99 L831.5,1473.95 L835.18,1473.9 L838.85,1473.84 L842.51,1473.78 L846.17,1473.71 L849.82,1473.64 L853.47,1473.56 L857.11,1473.47 L860.74,1473.38 L864.37,1473.27 L867.98,1473.15 L871.6,1473.03 L875.2,1472.89 L878.8,1472.74 L882.39,1472.57 L885.98,1472.39 L889.57,1472.2 L893.16,1471.98 L896.75,1471.75 L900.33,1471.5 L903.92,1471.23 L907.49,1470.93 L911.06,1470.61 L914.62,1470.26 L918.17,1469.89 L921.7,1469.48 L925.22,1469.04 L928.73,1468.57 L932.21,1468.06 L935.68,1467.51 L939.12,1466.91 L942.54,1466.28 L945.94,1465.59 L949.32,1464.85 L952.69,1464.06 L956.05,1463.22 L959.4,1462.31 L962.74,1461.34 L966.07,1460.3 L969.38,1459.19 L972.69,1458 L975.99,1456.73 L979.28,1455.38 L982.56,1453.94 L985.83,1452.41 L989.09,1450.79 L992.33,1449.06 L995.57,1447.22 L998.8,1445.27 L1002.02,1443.2 L1005.2,1441.01 L1008.23,1438.7 L1011.13,1436.25 L1013.93,1433.66 L1016.68,1430.93 L1019.42,1428.04 L1022.19,1425.01 L1025.03,1421.8 L1027.98,1418.44 L1031.03,1414.9 L1034.09,1411.17 L1037.15,1407.27 L1040.22,1403.17 L1043.29,1398.88 L1046.38,1394.38 L1049.48,1389.68 L1052.59,1384.76 L1055.73,1379.62 L1058.87,1374.26 L1062.01,1368.66 L1065.14,1362.83 L1068.27,1356.77 L1071.39,1350.45 L1074.5,1343.89 L1077.6,1337.07 L1080.7,1329.99 L1083.79,1322.66 L1086.88,1315.05 L1089.96,1307.18 L1093.03,1299.04 L1096.09,1290.62 L1099.15,1281.93 L1102.2,1272.96 L1105.25,1263.71 L1108.29,1254.18 L1111.32,1244.38 L1114.35,1234.29 L1117.36,1223.92 L1120.38,1213.27 L1123.38,1202.35 L1126.38,1191.15 L1129.37,1179.68 L1132.36,1167.94 L1135.33,1155.93 L1138.31,1143.66 L1141.27,1131.13 L1144.23,1118.34 L1147.18,1105.31 L1150.12,1092.04 L1153.06,1078.53 L1155.99,1064.8 L1158.91,1050.85 L1161.83,1036.68 L1164.73,1022.31 L1167.64,1007.74 L1170.53,992.99 L1173.42,978.06 L1176.3,962.97 L1179.17,947.72 L1182.04,932.33 L1184.89,916.81 L1187.74,901.16 L1190.56,885.41 L1193.38,869.56 L1196.18,853.62 L1198.97,837.62 L1201.75,821.55 L1204.52,805.44 L1207.28,789.3 L1210.03,773.14 L1212.77,756.96 L1215.5,740.8 L1218.23,724.66 L1220.95,708.55 L1223.66,692.48 L1226.37,676.48 L1229.08,660.54 L1231.78,644.69 L1234.48,628.94 L1237.17,613.29 L1239.87,597.77 L1242.56,582.38 L1245.24,567.13 L1247.91,552.04 L1250.58,537.11 L1253.24,522.36 L1255.9,507.79 L1258.55,493.42 L1261.2,479.25 L1263.84,465.3 L1266.47,451.57 L1269.11,438.06 L1271.74,424.79 L1274.37,411.76 L1277,398.97 L1279.63,386.44 L1282.28,374.17 L1284.94,362.16 L1287.6,350.42 L1290.28,338.95 L1292.96,327.75 L1295.64,316.83 L1298.32,306.18 L1301,295.81 L1303.67,285.72 L1306.34,275.92 L1309,266.39 L1311.65,257.14 L1314.33,248.17 L1317.03,239.48 L1319.74,231.06 L1322.45,222.92 L1325.16,215.05 L1327.85,207.44 L1330.52,200.11 L1333.17,193.03 L1335.78,186.21 L1338.35,179.65 L1340.87,173.33 L1343.33,167.27 L1345.79,161.44 L1348.23,155.84 L1350.67,150.48 L1353.11,145.34 L1355.53,140.42 L1357.95,135.72 L1360.37,131.22 L1362.77,126.93 L1365.17,122.83 L1367.56,118.93 L1369.95,115.2 L1372.33,111.66 L1374.7,108.3 L1377.08,105.09 L1379.5,102.06 L1381.97,99.17 L1384.47,96.44 L1386.98,93.85 L1389.48,91.4 L1391.96,89.09 L1394.4,86.9 L1396.84,84.83 L1399.28,82.88 L1401.72,81.04 L1404.15,79.31 L1406.56,77.69 L1408.96,76.16 L1411.33,74.72 L1413.67,73.37 L1415.98,72.1 L1418.25,70.91 L1420.48,69.8 L1422.68,68.76 L1424.85,67.79 L1426.99,66.88 L1429.12,66.04 L1431.23,65.25 L1433.34,64.51 L1435.43,63.82 L1437.52,63.19 L1439.62,62.59 L1441.72,62.04 L1443.81,61.53 L1445.9,61.06 L1447.98,60.62 L1450.05,60.21 L1452.12,59.84 L1454.17,59.49 L1456.23,59.17 L1458.28,58.87 L1460.32,58.6 L1462.36,58.35 L1464.4,58.12 L1466.43,57.9 L1468.46,57.71 L1470.49,57.53 L1472.51,57.36 L1474.53,57.21 L1476.53,57.07 L1478.54,56.95 L1480.54,56.83 L1482.53,56.72 L1484.51,56.63 L1486.49,56.54 L1488.47,56.46 L1490.44,56.39 L1492.4,56.32 L1494.36,56.26 L1496.31,56.2 L1498.25,56.15 L1500.2,56.11 L1502.13,56.07 L1504.06,56.03 L1505.99,56 L1507.91,55.97 L1509.82,55.94 L1511.74,55.91 L1513.64,55.89 L1515.54,55.87 L1517.44,55.85" stroke="#009191" stroke-linecap="square"/></g></g>
<g filter="url(#hard)"><g clip-path="url(#ax)" fill="none" stroke-width="8" stroke-linejoin="round"><path d="M904.83,1473.43 L905.75,1473.33 L906.66,1473.22 L907.58,1473.11 L908.49,1472.98 L909.41,1472.85 L910.32,1472.7 L911.24,1472.54 L912.15,1472.36 L913.07,1472.17 L913.98,1471.96 L914.89,1471.74 L915.81,1471.5 L916.72,1471.24 L917.64,1470.95 L918.55,1470.65 L919.47,1470.32 L920.38,1469.96 L921.3,1469.58 L922.21,1469.16 L923.13,1468.72 L924.04,1468.24 L924.96,1467.73 L925.87,1467.18 L926.79,1466.58 L927.7,1465.95 L928.62,1465.27 L929.53,1464.54 L930.44,1463.76 L931.36,1462.93 L932.27,1462.04 L933.19,1461.09 L934.1,1460.08 L935.02,1459 L935.93,1457.85 L936.85,1456.63 L937.76,1455.33 L938.68,1453.94 L939.59,1452.48 L940.51,1450.92 L941.42,1449.27 L942.34,1447.52 L943.25,1445.67 L944.17,1443.72 L945.08,1441.65 L945.99,1439.46 L946.91,1437.16 L947.82,1434.73 L948.74,1432.16 L949.65,1429.47 L950.57,1426.63 L951.48,1423.64 L952.4,1420.51 L953.31,1417.21 L954.23,1413.76 L955.14,1410.14 L956.06,1406.35 L956.97,1402.38 L957.89,1398.22 L958.8,1393.88 L959.71,1389.35 L960.63,1384.62 L961.54,1379.69 L962.46,1374.55 L963.37,1369.2 L964.29,1363.64 L965.2,1357.85 L966.12,1351.84 L967.03,1345.6 L967.95,1339.12 L968.86,1332.41 L969.78,1325.46 L970.69,1318.27 L971.61,1310.83 L972.52,1303.14 L973.44,1295.21 L974.35,1287.01 L975.26,1278.57 L976.18,1269.87 L977.09,1260.91 L978.01,1251.69 L978.92,1242.22 L979.84,1232.49 L980.75,1222.5 L981.67,1212.25 L982.58,1201.75 L983.5,1191 L984.41,1179.99 L985.33,1168.74 L986.24,1157.24 L987.16,1145.5 L988.07,1133.52 L988.98,1121.3 L989.9,1108.86 L990.81,1096.19 L991.73,1083.31 L992.64,1070.21 L993.56,1056.91 L994.47,1043.4 L995.39,1029.71 L996.3,1015.83 L997.22,1001.78 L998.13,987.56 L999.05,973.18 L999.96,958.66 L1000.88,943.99 L1001.79,929.19 L1002.71,914.28 L1003.62,899.25 L1004.53,884.13 L1005.45,868.91 L1006.36,853.62 L1007.28,838.27 L1008.19,822.86 L1009.11,807.4 L1010.02,791.92 L1010.94,776.41 L1011.85,760.9 L1012.77,745.39 L1013.68,729.89 L1014.6,714.42 L1015.51,698.99 L1016.43,683.6 L1017.34,668.28 L1018.25,653.03 L1019.17,637.87 L1020.08,622.79 L1021,607.82 L1021.91,592.97 L1022.83,578.24 L1023.74,563.65 L1024.66,549.2 L1025.57,534.91 L1026.49,520.78 L1027.4,506.82 L1028.32,493.04 L1029.23,479.44 L1030.15,466.05 L1031.06,452.85 L1031.98,439.87 L1032.89,427.1 L1033.8,414.55 L1034.72,402.23 L1035.63,390.14 L1036.55,378.29 L1037.46,366.68 L1038.38,355.31 L1039.29,344.19 L1040.21,333.32 L1041.12,322.7 L1042.04,312.33 L1042.95,302.22 L1043.87,292.37 L1044.78,282.78 L1045.7,273.44 L1046.61,264.36 L1047.53,255.54 L1048.44,246.98 L1049.35,238.67 L1050.27,230.61 L1051.18,222.81 L1052.1,215.26 L1053.01,207.95 L1053.93,200.89 L1054.84,194.07 L1055.76,187.48 L1056.67,181.13 L1057.59,175.02 L1058.5,169.13 L1059.42,163.46 L1060.33,158.01 L1061.25,152.77 L1062.16,147.74 L1063.07,142.92 L1063.99,138.3 L1064.9,133.87 L1065.82,129.63 L1066.73,125.58 L1067.65,121.7 L1068.56,118 L1069.48,114.47 L1070.39,111.11 L1071.31,107.9 L1072.22,104.84 L1073.14,101.94 L1074.05,99.17 L1074.97,96.55 L1075.88,94.06 L1076.8,91.69 L1077.71,89.45 L1078.62,87.33 L1079.54,85.32 L1080.45,83.42 L1081.37,81.63 L1082.28,79.93 L1083.2,78.33 L1084.11,76.83 L1085.03,75.41 L1085.94,74.07 L1086.86,72.81 L1087.77,71.63 L1088.69,70.52 L1089.6,69.47 L1090.52,68.49 L1091.43,67.58 L1092.34,66.72 L1093.26,65.92 L1094.17,65.16 L1095.09,64.46 L1096,63.81 L1096.92,63.19 L1097.83,62.62 L1098.75,62.09 L1099.66,61.6 L1100.58,61.14 L1101.49,60.71 L1102.41,60.31 L1103.32,59.94 L1104.24,59.6 L1105.15,59.29 L1106.07,58.99 L1106.98,58.72 L1107.89,58.47 L1108.81,58.24 L1109.72,58.02 L1110.64,57.83 L1111.55,57.64 L1112.47,57.48 L1113.38,57.32 L1114.3,57.18 L1115.21,57.05 L1116.13,56.93 L1117.04,56.82 L1117.96,56.72 L1118.87,56.63 L1119.79,56.54 L1120.7,56.46 L1121.62,56.39 L1122.53,56.33 L1123.44,56.27 L1124.36,56.22 L1125.27,56.17 L1126.19,56.12 L1127.1,56.08 L1128.02,56.04 L1128.93,56.01 L1129.85,55.98 L1130.76,55.95 L1131.68,55.93 L1132.59,55.9 L1133.51,55.88 L1134.42,55.86 L1135.34,55.85 L1136.25,55.83 L1137.16,55.82 L1138.08,55.81 L1138.99,55.8 L1139.91,55.79 L1140.82,55.78 L1141.74,55.77" stroke="#6eb4ff" stroke-linecap="square"/></g></g>
<g filter="url(#hard)"><g clip-path="url(#ax)" fill="none" stroke-width="8" stroke-linejoin="round"><path d="M864.56,1474.17 L867.86,1474.15 L870.81,1474.12 M883.21,1473.99 L884.3,1473.97 L887.58,1473.93 L890.86,1473.88 L894.13,1473.82 L897.41,1473.76 L900.68,1473.69 L903.94,1473.61 L907.21,1473.53 L910.47,1473.44 L913.45,1473.35 M925.85,1472.89 L926.74,1472.85 L929.98,1472.7 L933.22,1472.54 L936.46,1472.35 L939.7,1472.16 L942.94,1471.95 L946.17,1471.71 L949.4,1471.46 L952.62,1471.19 L955.85,1470.89 L956.02,1470.88 M968.35,1469.5 L968.72,1469.45 L971.93,1469.02 L975.13,1468.55 L978.34,1468.04 L981.54,1467.5 L984.74,1466.91 L987.94,1466.28 L991.13,1465.61 L994.32,1464.88 L997.51,1464.11 L998.07,1463.96 M1008.08,1461.1 L1010.24,1460.41 L1013.41,1459.32 L1016.58,1458.16 L1019.75,1456.93 L1022.92,1455.61 L1026.08,1454.2 L1029.25,1452.71 L1032.4,1451.12 L1035.56,1449.44 L1035.86,1449.27 M1045.71,1443.27 L1048.16,1441.62 L1051.3,1439.37 L1054.44,1436.99 L1057.58,1434.48 L1060.71,1431.83 L1063.84,1429.04 L1066.97,1426.09 L1069.02,1424.06 M1076.59,1416.02 L1079.46,1412.71 L1082.58,1408.93 L1085.69,1404.97 L1088.8,1400.82 L1091.91,1396.47 L1094.96,1392.01 M1101.26,1382.15 L1104.31,1377.04 L1107.4,1371.64 L1110.5,1366.02 L1113.58,1360.16 L1115.86,1355.67 M1120.97,1345.14 L1122.83,1341.15 L1125.91,1334.33 L1128.99,1327.25 L1132.06,1319.91 L1133.07,1317.42 M1137.31,1306.73 L1138.19,1304.46 L1141.26,1296.34 L1144.32,1287.95 L1147.38,1279.29 L1147.71,1278.33 M1151.4,1267.44 L1153.49,1261.17 L1156.54,1251.69 L1159.59,1241.95 L1160.6,1238.63 M1164.07,1227.07 L1165.67,1221.64 L1168.71,1211.08 L1171.75,1200.25 L1172.37,1197.98 M1175.54,1186.34 L1177.82,1177.79 L1180.85,1166.17 L1183.17,1157.07 M1186.1,1145.36 L1186.9,1142.15 L1189.92,1129.76 L1192.94,1117.12 L1193.21,1115.96 M1196,1104.04 L1198.96,1091.14 L1201.97,1077.8 L1202.7,1074.54 M1205.34,1062.59 L1207.99,1050.46 L1210.99,1036.48 L1211.72,1033.02 M1214.25,1021.04 L1216.98,1007.94 L1219.98,993.39 L1220.38,991.42 M1222.82,979.42 L1222.97,978.67 L1225.96,963.79 L1228.74,949.76 M1231.11,937.75 L1231.93,933.58 L1234.91,918.28 L1236.88,908.06 M1239.2,896.01 L1240.86,887.33 L1243.83,871.71 L1244.85,866.3 M1247.13,854.24 L1249.77,840.22 L1252.71,824.51 M1254.96,812.45 L1255.69,808.49 L1258.65,792.57 L1260.48,782.71 M1262.72,770.65 L1264.56,760.68 L1267.51,744.73 L1268.22,740.91 M1270.45,728.84 L1270.46,728.8 L1273.41,712.9 L1275.96,699.1 M1278.21,687.04 L1279.29,681.23 L1282.22,665.48 L1283.76,657.3 M1286.04,645.12 L1288.09,634.25 L1291.02,618.78 L1291.66,615.39 M1293.99,603.21 L1296.87,588.19 L1299.71,573.51 M1302.08,561.34 L1302.71,558.14 L1305.62,543.34 L1307.95,531.66 M1310.39,519.5 L1311.45,514.27 L1314.35,500 L1316.45,489.87 M1318.97,477.73 L1320.16,472.06 L1323.06,458.4 L1325.27,448.14 M1327.91,436.03 L1328.85,431.75 L1331.74,418.77 L1334.52,406.51 M1337.31,394.42 L1337.51,393.52 L1340.4,381.27 L1343.28,369.27 L1344.33,365 M1347.26,353.14 L1349.03,346.05 L1351.9,334.83 L1354.77,323.88 L1354.78,323.84 M1357.96,312.04 L1360.5,302.79 L1363.36,292.65 L1366.18,282.93 M1369.68,271.22 L1371.93,263.86 L1374.78,254.81 L1377.63,246.03 L1378.85,242.39 M1382.78,230.83 L1383.32,229.28 L1386.16,221.3 L1389,213.59 L1391.83,206.14 L1393.28,202.46 M1397.85,191.14 L1400.32,185.31 L1403.14,178.87 L1405.96,172.67 L1408.78,166.7 L1410.31,163.58 M1415.45,153.51 L1417.22,150.2 L1420.02,145.14 L1422.83,140.29 L1425.63,135.66 L1428.43,131.22 L1430.88,127.5 M1437.36,118.35 L1439.6,115.4 L1442.38,111.9 L1445.17,108.56 L1447.95,105.39 L1450.73,102.38 L1453.5,99.52 L1456.27,96.8 L1457.41,95.75 M1465.09,89.07 L1467.33,87.3 L1470.09,85.24 L1472.85,83.29 L1475.6,81.46 L1478.35,79.73 L1481.1,78.09 L1483.85,76.56 L1486.59,75.12 L1489.33,73.76 L1490.71,73.12 M1500.49,69.04 L1502.99,68.14 L1505.71,67.22 L1508.43,66.36 L1511.15,65.56 L1513.86,64.81 L1516.58,64.11 L1519.29,63.46 L1521.99,62.86 L1524.7,62.3 L1527.4,61.78 L1529.71,61.36 M1539.21,59.9 L1540.87,59.68 L1543.55,59.35 L1546.24,59.04 L1548.92,58.76 L1551.59,58.5 L1554.27,58.26 L1556.94,58.04 L1559.61,57.83 L1562.28,57.64 L1564.94,57.47 L1567.6,57.31 L1569.33,57.22 M1581.7,56.67 L1583.51,56.61 L1586.16,56.52 L1588.79,56.44 L1591.43,56.37 L1594.07,56.31 L1596.7,56.25 L1599.33,56.2 L1601.95,56.15 L1604.58,56.1 L1607.2,56.06 L1609.81,56.03 L1611.95,56 M1624.35,55.88 L1625.47,55.87 L1628.06,55.85" stroke="#009191"/></g></g>
<g filter="url(#hard)"><g clip-path="url(#ax)" fill="none" stroke-width="8" stroke-linejoin="round"><path d="M928.18,1473.71 L929.13,1473.65 L930.07,1473.57 L931.02,1473.49 L931.96,1473.4 L932.9,1473.31 L933.85,1473.2 L934.79,1473.09 L935.74,1472.97 L936.68,1472.83 L937.63,1472.69 L938.57,1472.53 L939.51,1472.36 L940.46,1472.17 L941.4,1471.97 L942.35,1471.76 L943.29,1471.52 L944.24,1471.27 L945.18,1471 L946.12,1470.71 L947.07,1470.39 L948.01,1470.05 L948.96,1469.68 L949.9,1469.29 L950.85,1468.87 L951.79,1468.41 L952.74,1467.93 L953.68,1467.41 L954.62,1466.85 L955.57,1466.25 L956.51,1465.61 L957.46,1464.93 L958.4,1464.2 L959.35,1463.42 L960.29,1462.58 L961.23,1461.7 L962.18,1460.75 L963.12,1459.75 L964.07,1458.68 L965.01,1457.55 L965.96,1456.34 L966.9,1455.06 L967.84,1453.7 L968.79,1452.26 L969.73,1450.74 L970.68,1449.13 L971.62,1447.42 L972.57,1445.62 L973.51,1443.72 L974.45,1441.71 L975.4,1439.59 L976.34,1437.36 L977.29,1435.01 L978.23,1432.53 L979.18,1429.93 L980.12,1427.2 L981.07,1424.33 L982.01,1421.31 L982.95,1418.16 L983.9,1414.85 L984.84,1411.38 L985.79,1407.75 L986.73,1403.96 L987.68,1400 L988.62,1395.86 L989.56,1391.55 L990.51,1387.05 L991.45,1382.36 L992.4,1377.47 L993.34,1372.39 L994.29,1367.11 L995.23,1361.62 L996.17,1355.93 L997.12,1350.02 L998.06,1343.89 L999.01,1337.54 L999.95,1330.96 L1000.9,1324.16 L1001.84,1317.13 L1002.78,1309.87 L1003.73,1302.37 L1004.67,1294.64 L1005.62,1286.66 L1006.56,1278.45 L1007.51,1269.99 L1008.45,1261.29 L1009.4,1252.35 L1010.34,1243.16 L1011.28,1233.74 L1012.23,1224.06 L1013.17,1214.15 L1014.12,1203.99 L1015.06,1193.6 L1016.01,1182.96 L1016.95,1172.09 L1017.89,1160.99 L1018.84,1149.66 L1019.78,1138.1 L1020.73,1126.32 L1021.67,1114.32 L1022.62,1102.11 L1023.56,1089.69 L1024.5,1077.06 L1025.45,1064.24 L1026.39,1051.23 L1027.34,1038.03 L1028.28,1024.65 L1029.23,1011.1 L1030.17,997.39 L1031.11,983.53 L1032.06,969.52 L1033,955.36 L1033.95,941.08 L1034.89,926.68 L1035.84,912.17 L1036.78,897.55 L1037.73,882.85 L1038.67,868.06 L1039.61,853.19 L1040.56,838.27 L1041.5,823.29 L1042.45,808.28 L1043.39,793.23 L1044.34,778.16 L1045.28,763.08 L1046.22,748.01 L1047.17,732.94 L1048.11,717.9 L1049.06,702.9 L1050,687.93 L1050.95,673.02 L1051.89,658.18 L1052.83,643.41 L1053.78,628.72 L1054.72,614.14 L1055.67,599.65 L1056.61,585.28 L1057.56,571.03 L1058.5,556.92 L1059.45,542.94 L1060.39,529.11 L1061.33,515.45 L1062.28,501.94 L1063.22,488.61 L1064.17,475.46 L1065.11,462.5 L1066.06,449.73 L1067,437.15 L1067.94,424.79 L1068.89,412.63 L1069.83,400.69 L1070.78,388.96 L1071.72,377.46 L1072.67,366.19 L1073.61,355.15 L1074.55,344.34 L1075.5,333.77 L1076.44,323.44 L1077.39,313.34 L1078.33,303.49 L1079.28,293.88 L1080.22,284.52 L1081.16,275.39 L1082.11,266.51 L1083.05,257.88 L1084,249.49 L1084.94,241.33 L1085.89,233.42 L1086.83,225.75 L1087.78,218.31 L1088.72,211.11 L1089.66,204.14 L1090.61,197.4 L1091.55,190.88 L1092.5,184.59 L1093.44,178.52 L1094.39,172.67 L1095.33,167.02 L1096.27,161.59 L1097.22,156.36 L1098.16,151.33 L1099.11,146.5 L1100.05,141.86 L1101,137.41 L1101.94,133.14 L1102.88,129.05 L1103.83,125.13 L1104.77,121.38 L1105.72,117.8 L1106.66,114.38 L1107.61,111.11 L1108.55,107.99 L1109.49,105.01 L1110.44,102.18 L1111.38,99.48 L1112.33,96.91 L1113.27,94.47 L1114.22,92.15 L1115.16,89.95 L1116.11,87.86 L1117.05,85.88 L1117.99,84 L1118.94,82.22 L1119.88,80.54 L1120.83,78.95 L1121.77,77.45 L1122.72,76.04 L1123.66,74.7 L1124.6,73.44 L1125.55,72.25 L1126.49,71.13 L1127.44,70.08 L1128.38,69.09 L1129.33,68.16 L1130.27,67.29 L1131.21,66.48 L1132.16,65.71 L1133.1,64.99 L1134.05,64.32 L1134.99,63.69 L1135.94,63.1 L1136.88,62.55 L1137.82,62.04 L1138.77,61.56 L1139.71,61.12 L1140.66,60.7 L1141.6,60.32 L1142.55,59.96 L1143.49,59.63 L1144.44,59.32 L1145.38,59.03 L1146.32,58.76 L1147.27,58.51 L1148.21,58.29 L1149.16,58.07 L1150.1,57.88 L1151.05,57.7 L1151.99,57.53 L1152.93,57.38 L1153.88,57.23 L1154.82,57.1 L1155.77,56.98 L1156.71,56.87 L1157.66,56.77 L1158.6,56.67 L1159.54,56.59 L1160.49,56.51 L1161.43,56.44 L1162.38,56.37 L1163.32,56.31 L1164.27,56.25 L1165.21,56.2 L1166.15,56.15 L1167.1,56.11 L1168.04,56.07 L1168.99,56.04 L1169.93,56.01 L1170.88,55.98 L1171.82,55.95 L1172.77,55.93" stroke="#6eb4ff" stroke-dasharray="30.25,12.4" stroke-dashoffset="28.67"/></g></g>
<g filter="url(#hard)"><g clip-path="url(#ax)" fill="none" stroke-width="8" stroke-linejoin="round"><path d="M915,1472.5 L943,1471.8 L954,1467.8 L959,1464.2 L965.5,1460.8 L978.5,1460 L978.5,55.7 L2142,55.7" stroke="#ff69b4" stroke-dasharray="30.25,12.4" stroke-dashoffset="2.74"/></g></g>
<g filter="url(#hard)"><g clip-path="url(#ax)" fill="none" stroke-width="8" stroke-linejoin="round"><path d="M897,1474.4 L912.9,1474.4 L926.5,1459 L926.5,55.7 L2142,55.7" stroke="#000000" stroke-dasharray="30.25,12.4" stroke-dashoffset="32.64"/></g></g>
<g filter="url(#hard)" stroke="#000" stroke-width="4.26" fill="none">
<path d="M284.91,1474.4 v19.65"/>
<path d="M658.05,1474.4 v19.65"/>
<path d="M1031.19,1474.4 v19.65"/>
<path d="M1404.33,1474.4 v19.65"/>
<path d="M1777.46,1474.4 v19.65"/>
<path d="M2150.6,1474.4 v19.65"/>
<path d="M247.6,1474.4 h-19.65"/>
<path d="M247.6,1190.66 h-19.65"/>
<path d="M247.6,906.92 h-19.65"/>
<path d="M247.6,623.18 h-19.65"/>
<path d="M247.6,339.44 h-19.65"/>
<path d="M247.6,55.7 h-19.65"/>
<rect x="247.6" y="55.7" width="1903" height="1418.7" stroke-linejoin="miter"/>
</g>
<g class="t" filter="url(#hard)">
<text x="284.91" y="1551.6" text-anchor="middle">−0.6</text>
<text x="658.05" y="1551.6" text-anchor="middle">−0.5</text>
<text x="1031.19" y="1551.6" text-anchor="middle">−0.4</text>
<text x="1404.33" y="1551.6" text-anchor="middle">−0.3</text>
<text x="1777.46" y="1551.6" text-anchor="middle">−0.2</text>
<text x="2150.6" y="1551.6" text-anchor="middle">−0.1</text>
<text x="210.6" y="1494.7" text-anchor="end">0.0</text>
<text x="210.6" y="1210.96" text-anchor="end">0.2</text>
<text x="210.6" y="927.22" text-anchor="end">0.4</text>
<text x="210.6" y="643.48" text-anchor="end">0.6</text>
<text x="210.6" y="359.74" text-anchor="end">0.8</text>
<text x="210.6" y="76" text-anchor="end">1.0</text>
</g>
<g filter="url(#hard)">
<text class="l" transform="translate(90,765.2) rotate(-90)" text-anchor="middle">CDF</text>
<text class="l" y="1646.5"><tspan class="i" x="1094.2">H</tspan><tspan x="1195.5">(</tspan><tspan class="i" x="1223.5">Z</tspan><tspan x="1271.5">)</tspan></text>
<text style="font-size:49px" x="1161.5" y="1620.5">*</text>
<text class="i" style="font-size:49px" x="1147.5" y="1666.5">α</text>
</g>
<rect filter="url(#hard)" x="274" y="82.5" width="394.6" height="595.5" rx="10.7" ry="10.7" fill="none" stroke="#ccc" stroke-width="5.33"/>
<g fill="none" stroke-width="8" filter="url(#hard)">
<path d="M295.3,125.5 H402.3" stroke="#8f0000" stroke-linecap="square"/>
<path d="M295.3,210.4 H402.3" stroke="#009191" stroke-linecap="square"/>
<path d="M295.3,296.4 H402.3" stroke="#6eb4ff" stroke-linecap="square"/>
<path d="M295.3,381.6 H402.3" stroke="#009191" stroke-dasharray="30.25,12.4"/>
<path d="M295.3,466.6 H402.3" stroke="#6eb4ff" stroke-dasharray="30.25,12.4"/>
<path d="M295.3,546.6 H402.3" stroke="#ff69b4" stroke-dasharray="30.25,12.4"/>
<path d="M295.3,626.5 H402.3" stroke="#000000" stroke-dasharray="30.25,12.4"/>
</g>
<g filter="url(#hard)">
<text class="t" y="140.6"><tspan class="i" x="444.8">N</tspan><tspan x="494.7">=</tspan><tspan x="549.4">10</tspan></text>
<text class="t" y="223.8"><tspan class="i" x="444.8">N</tspan><tspan x="494.7">=</tspan><tspan x="549.4">10</tspan><tspan class="s" x="617.8" dy="-19.6">2</tspan></text>
<text class="t" y="309.5"><tspan class="i" x="444.8">N</tspan><tspan x="494.7">=</tspan><tspan x="549.4">10</tspan><tspan class="s" x="617.8" dy="-19.6">3</tspan></text>
<text class="t" y="394.6"><tspan class="i" x="444.8">N</tspan><tspan x="494.7">=</tspan><tspan x="549.4">10</tspan><tspan class="s" x="617.8" dy="-19.6">2</tspan></text>
<text class="t" y="480"><tspan class="i" x="444.8">N</tspan><tspan x="494.7">=</tspan><tspan x="549.4">10</tspan><tspan class="s" x="617.8" dy="-19.6">3</tspan></text>
<text class="t" y="564.6"><tspan class="i" x="444.8">N</tspan><tspan x="494.7">=</tspan><tspan x="549.4">10</tspan><tspan class="s" x="617.8" dy="-19.6">4</tspan></text>
<text class="t" y="644.1"><tspan class="i" x="444.8">N</tspan><tspan x="494.7">=</tspan><tspan x="549.4">10</tspan><tspan class="s" x="617.8" dy="-19.6">5</tspan></text>
</g>
</svg></body></html>
